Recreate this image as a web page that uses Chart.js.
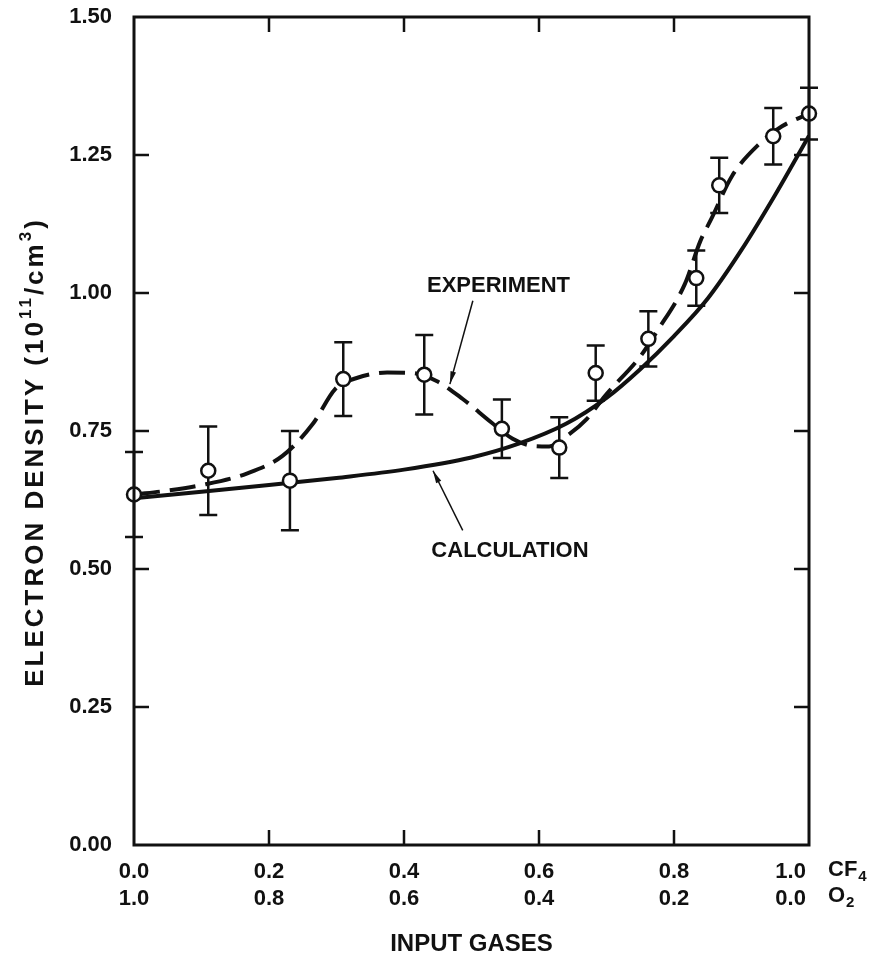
<!doctype html>
<html lang="en">
<head>
<meta charset="UTF-8" />
<title>Electron Density vs Input Gases</title>
<script src="https://cdn.jsdelivr.net/npm/chart.js"></script>
<style>
  html, body { margin: 0; padding: 0; background: #fff; }
</style>
</head>
<body>
<canvas id="densityChart" width="882" height="959"></canvas>
<script>
// axis ticks (CF4 fraction on x, O2 = 1 - CF4)
const xTicks = [0, 0.2, 0.4, 0.6, 0.8, 1.0];
const cf4Labels = ['0.0', '0.2', '0.4', '0.6', '0.8', '1.0'];
const o2Labels = ['1.0', '0.8', '0.6', '0.4', '0.2', '0.0'];
const yTicks = [0, 0.25, 0.5, 0.75, 1.0, 1.25, 1.5];

// measured electron density (10^11 / cm^3) with error bars
const expX = [0, 0.11, 0.231, 0.31, 0.43, 0.545, 0.63, 0.684, 0.762, 0.833, 0.867, 0.947, 1.0];
const expY = [0.635, 0.678, 0.66, 0.844, 0.852, 0.754, 0.72, 0.855, 0.917, 1.027, 1.195, 1.284, 1.325];
const expErr = [0.077, 0.08, 0.09, 0.067, 0.072, 0.053, 0.055, 0.05, 0.05, 0.05, 0.05, 0.051, 0.047];

// hand drawn experiment curve (dashed)
const expCurveX = [0, 0.05, 0.10, 0.167, 0.22, 0.265, 0.298, 0.33, 0.375, 0.412, 0.449, 0.487, 0.53, 0.561, 0.59, 0.615, 0.64, 0.671, 0.698, 0.75, 0.775, 0.816, 0.839, 0.856, 0.886, 0.927, 0.96, 1.0];
const expCurveY = [0.635, 0.642, 0.652, 0.673, 0.705, 0.763, 0.826, 0.846, 0.856, 0.855, 0.840, 0.808, 0.765, 0.736, 0.723, 0.722, 0.740, 0.772, 0.814, 0.885, 0.931, 1.016, 1.094, 1.136, 1.212, 1.271, 1.302, 1.325];

// calculation curve (solid)
const calcX = [0, 0.1, 0.2, 0.3, 0.4, 0.5, 0.57, 0.64, 0.7, 0.75, 0.8, 0.85, 0.9, 0.95, 1.0];
const calcY = [0.628, 0.640, 0.652, 0.665, 0.680, 0.702, 0.727, 0.763, 0.810, 0.862, 0.922, 0.990, 1.078, 1.178, 1.285];

const FONT = "'Liberation Sans', Arial, Helvetica, sans-serif";
const INK = '#111';

const toPoints = (xs, ys) => xs.map((x, i) => ({ x: x, y: ys[i] }));

// labels with arrows, in data units
const callouts = [
  { text: 'EXPERIMENT', at: [0.54, 1.013], from: [0.502, 0.986], to: [0.468, 0.835] },
  { text: 'CALCULATION', at: [0.557, 0.533], from: [0.487, 0.570], to: [0.443, 0.678] },
];

const paperPlugin = {
  id: 'paper',
  beforeDatasetsDraw(chart) {
    // error bars go under the open circles
    const { ctx, scales: { x, y } } = chart;
    ctx.save();
    ctx.strokeStyle = INK;
    ctx.lineWidth = 2.5;
    expX.forEach((v, i) => {
      const px = x.getPixelForValue(v);
      const top = y.getPixelForValue(expY[i] + expErr[i]);
      const bot = y.getPixelForValue(expY[i] - expErr[i]);
      ctx.beginPath();
      ctx.moveTo(px, top); ctx.lineTo(px, bot);
      ctx.moveTo(px - 9, top); ctx.lineTo(px + 9, top);
      ctx.moveTo(px - 9, bot); ctx.lineTo(px + 9, bot);
      ctx.stroke();
    });
    ctx.restore();
  },
  afterDraw(chart) {
    const { ctx, chartArea: a, scales: { x, y } } = chart;
    ctx.save();
    ctx.strokeStyle = INK;
    ctx.fillStyle = INK;

    // frame
    ctx.lineWidth = 3;
    ctx.strokeRect(a.left, a.top, a.right - a.left, a.bottom - a.top);

    // inward tick marks
    ctx.lineWidth = 2.5;
    ctx.beginPath();
    yTicks.slice(1, -1).forEach(v => {
      const py = y.getPixelForValue(v);
      ctx.moveTo(a.left, py); ctx.lineTo(a.left + 15, py);
      ctx.moveTo(a.right, py); ctx.lineTo(a.right - 15, py);
    });
    xTicks.slice(1, -1).forEach(v => {
      const px = x.getPixelForValue(v);
      ctx.moveTo(px, a.top); ctx.lineTo(px, a.top + 15);
      ctx.moveTo(px, a.bottom); ctx.lineTo(px, a.bottom - 15);
    });
    ctx.stroke();

    // gas names after the last tick label
    const row1 = 870, row2 = 896;
    const gx = a.right + 19;
    ctx.textBaseline = 'middle';
    ctx.textAlign = 'left';
    ctx.font = 'bold 22px ' + FONT;
    ctx.fillText('CF', gx, row1);
    ctx.fillText('O', gx, row2);
    const wCF = ctx.measureText('CF').width;
    const wO = ctx.measureText('O').width;
    ctx.font = 'bold 15px ' + FONT;
    ctx.fillText('4', gx + wCF + 1, row1 + 7);
    ctx.fillText('2', gx + wO + 1, row2 + 7);

    // y axis title with superscripts
    const parts = [
      ['ELECTRON DENSITY (10', 26, 0],
      ['11', 17, -10],
      ['/cm', 26, 0],
      ['3', 17, -10],
      [')', 26, 0],
    ];
    ctx.save();
    ctx.translate(36, (a.top + a.bottom) / 2 + 21);
    ctx.rotate(-Math.PI / 2);
    ctx.letterSpacing = '3px';
    let total = 0;
    parts.forEach(p => { ctx.font = 'bold ' + p[1] + 'px ' + FONT; total += ctx.measureText(p[0]).width; });
    let cx = -total / 2;
    parts.forEach(p => {
      ctx.font = 'bold ' + p[1] + 'px ' + FONT;
      ctx.fillText(p[0], cx, p[2]);
      cx += ctx.measureText(p[0]).width;
    });
    ctx.restore();

    // callouts
    ctx.font = 'bold 22px ' + FONT;
    ctx.textAlign = 'center';
    callouts.forEach(c => {
      ctx.fillText(c.text, x.getPixelForValue(c.at[0]), y.getPixelForValue(c.at[1]));
      const x1 = x.getPixelForValue(c.from[0]), y1 = y.getPixelForValue(c.from[1]);
      const x2 = x.getPixelForValue(c.to[0]), y2 = y.getPixelForValue(c.to[1]);
      ctx.lineWidth = 1.5;
      ctx.beginPath();
      ctx.moveTo(x1, y1); ctx.lineTo(x2, y2);
      ctx.stroke();
      const ang = Math.atan2(y2 - y1, x2 - x1);
      ctx.beginPath();
      ctx.moveTo(x2, y2);
      ctx.lineTo(x2 - 13 * Math.cos(ang - 0.22), y2 - 13 * Math.sin(ang - 0.22));
      ctx.lineTo(x2 - 13 * Math.cos(ang + 0.22), y2 - 13 * Math.sin(ang + 0.22));
      ctx.closePath();
      ctx.fill();
    });
    ctx.restore();
  }
};

new Chart(document.getElementById('densityChart'), {
  type: 'scatter',
  data: {
    datasets: [
      {
        label: 'Experiment data',
        data: toPoints(expX, expY),
        showLine: false,
        clip: false,
        pointRadius: 7,
        pointBorderWidth: 2.5,
        pointBackgroundColor: '#fff',
        pointBorderColor: INK,
      },
      {
        label: 'Experiment',
        data: toPoints(expCurveX, expCurveY),
        showLine: true,
        borderColor: INK,
        borderWidth: 4,
        borderDash: [26, 10],
        pointRadius: 0,
        cubicInterpolationMode: 'monotone',
      },
      {
        label: 'Calculation',
        data: toPoints(calcX, calcY),
        showLine: true,
        borderColor: INK,
        borderWidth: 4,
        pointRadius: 0,
        cubicInterpolationMode: 'monotone',
      },
    ],
  },
  options: {
    responsive: false,
    animation: false,
    layout: { padding: { left: 0, right: 73, top: 17, bottom: 0 } },
    plugins: { legend: { display: false }, tooltip: { enabled: false } },
    scales: {
      x: {
        type: 'linear',
        min: 0,
        max: 1,
        afterBuildTicks: s => { s.ticks = xTicks.map(v => ({ value: v })); },
        afterFit: s => { s.height = 114; s.paddingLeft = 0; s.paddingRight = 0; },
        grid: { display: false },
        border: { display: false },
        ticks: {
          color: INK,
          padding: 6,
          maxRotation: 0,
          font: { family: FONT, size: 22, weight: 'bold', lineHeight: 1.2 },
          callback: (v, i) => i === xTicks.length - 1
            ? [cf4Labels[i] + '      ', o2Labels[i] + '      ']
            : [cf4Labels[i], o2Labels[i]],
        },
        title: {
          display: true,
          text: 'INPUT GASES',
          color: INK,
          padding: { top: 0, bottom: 0 },
          font: { family: FONT, size: 24, weight: 'bold' },
        },
      },
      y: {
        min: 0,
        max: 1.5,
        afterBuildTicks: s => { s.ticks = yTicks.map(v => ({ value: v })); },
        afterFit: s => { s.width = 134; s.paddingTop = 0; s.paddingBottom = 0; },
        grid: { display: false },
        border: { display: false },
        ticks: {
          color: INK,
          padding: 14,
          font: { family: FONT, size: 22, weight: 'bold' },
          callback: v => v.toFixed(2),
        },
      },
    },
  },
  plugins: [paperPlugin],
});
</script>
</body>
</html>
